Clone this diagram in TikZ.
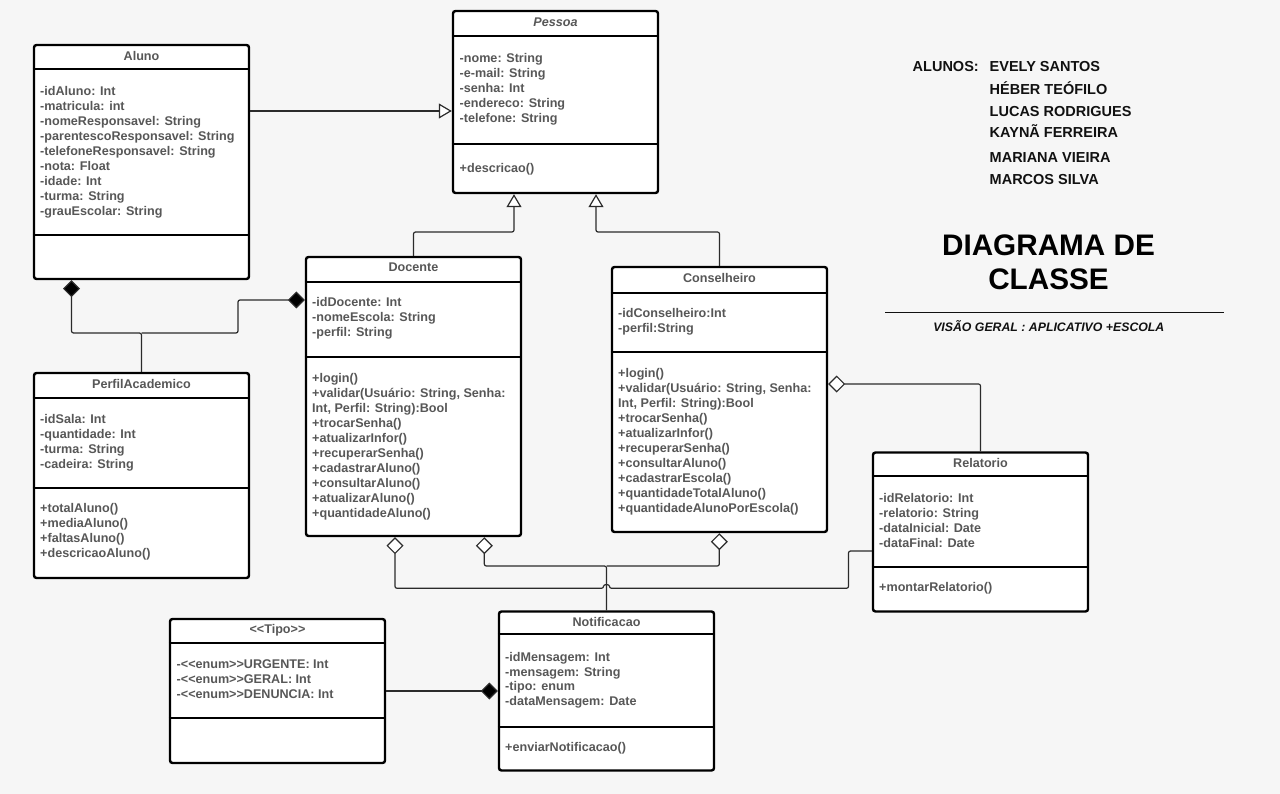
\documentclass[tikz,border=0pt]{standalone}
\usepackage{fontspec}
\newfontfamily\uf{Liberation Sans}
\usetikzlibrary{arrows.meta}
\definecolor{bg}{HTML}{F6F6F6}
\definecolor{txtgray}{HTML}{575757}
\definecolor{linegray}{HTML}{2B2B2B}
\definecolor{ink}{HTML}{111111}
\tikzset{
  umlbox/.style={draw=black, line width=2.4pt, fill=white, rounded corners=2.5pt, inner sep=0pt},
  sepline/.style={draw=black, line width=2.4pt},
  txt/.style={inner sep=0pt, font=\uf\bfseries\fontsize{12.6}{15}\selectfont, text=txtgray},
  conn/.style={draw=linegray, line width=1.2pt, rounded corners=2pt},
  gen/.style={conn, -{Triangle[open, length=13pt, width=15pt, fill=white]}},
  comp/.style={conn, -{Diamond[length=17pt, width=17pt, fill=black]}},
  aggr/.style={conn, -{Diamond[open, length=17pt, width=17pt, fill=white]}},
  side/.style={inner sep=0pt, font=\uf\bfseries\fontsize{14.5}{16}\selectfont, text=ink, anchor=base west},
}
\newcommand\umllines[5]{%
  \foreach \tx [count=\ii] in {#5}{
    \node[txt, anchor=base west] (#1-\ii) at (#2, {#3+#4*(\ii-1)}) {\tx};
  }}
\newcommand\umlsep[2]{\draw[sepline] (#1.west |- 0,#2) -- (#1.east |- 0,#2);}
\begin{document}
\begin{tikzpicture}[x=1pt, y=-1pt]
\useasboundingbox (0,0) rectangle (1280,794);
\fill[bg] (0,0) rectangle (1280,794);

% ---------- boxes ----------
\node[umlbox, minimum width=215pt, minimum height=234pt] (aluno) at (141.5,162) {};
\node[umlbox, minimum width=205pt, minimum height=182pt] (pessoa) at (555.5,102) {};
\node[umlbox, minimum width=215pt, minimum height=279pt] (docente) at (413.5,396.5) {};
\node[umlbox, minimum width=215pt, minimum height=265pt] (conselheiro) at (719.5,399.5) {};
\node[umlbox, minimum width=215pt, minimum height=205pt] (perfil) at (141.5,475.5) {};
\node[umlbox, minimum width=215pt, minimum height=159pt] (relatorio) at (980.5,532) {};
\node[umlbox, minimum width=215pt, minimum height=144pt] (tipo) at (277.5,691) {};
\node[umlbox, minimum width=215pt, minimum height=159pt] (notif) at (606.5,691) {};

\umlsep{aluno}{69}\umlsep{aluno}{235}
\umlsep{pessoa}{36}\umlsep{pessoa}{144}
\umlsep{docente}{282}\umlsep{docente}{357}
\umlsep{conselheiro}{293}\umlsep{conselheiro}{352}
\umlsep{perfil}{398}\umlsep{perfil}{488}
\umlsep{relatorio}{476}\umlsep{relatorio}{567}
\umlsep{tipo}{643}\umlsep{tipo}{718}
\umlsep{notif}{634}\umlsep{notif}{727}

% ---------- titles ----------
\node[txt, anchor=base] (aluno-t) at (aluno.center |- 0,60.2) {Aluno};
\node[txt, anchor=base] (pessoa-t) at (pessoa.center |- 0,26.2) {\itshape Pessoa};
\node[txt, anchor=base] (docente-t) at (docente.center |- 0,271.8) {Docente};
\node[txt, anchor=base] (conselheiro-t) at (conselheiro.center |- 0,282.8) {Conselheiro};
\node[txt, anchor=base] (perfil-t) at (perfil.center |- 0,388.5) {PerfilAcademico};
\node[txt, anchor=base] (relatorio-t) at (relatorio.center |- 0,467.2) {Relatorio};
\node[txt, anchor=base] (tipo-t) at (tipo.center |- 0,633.8) {<<Tipo>>};
\node[txt, anchor=base] (notif-t) at (notif.center |- 0,626.8) {Notificacao};

% ---------- contents ----------
\umllines{aluno-a}{40}{95.2}{15.08}{-idAluno: Int,-matricula: int,-nomeResponsavel: String,-parentescoResponsavel: String,-telefoneResponsavel: String,-nota: Float,-idade: Int,-turma: String,-grauEscolar: String}
\umllines{pessoa-a}{459.5}{62.8}{15}{-nome: String,-e-mail: String,-senha: Int,-endereco: String,-telefone: String}
\umllines{pessoa-m}{459.5}{172.2}{15}{+descricao()}
\umllines{docente-a}{312}{306.8}{15.1}{-idDocente: Int,-nomeEscola: String,-perfil: String}
\umllines{docente-m}{312}{382.2}{15.07}{+login(),{+validar(Usuário: String, Senha:},{Int, Perfil: String):Bool},+trocarSenha(),+atualizarInfor(),+recuperarSenha(),+cadastrarAluno(),+consultarAluno(),+atualizarAluno(),+quantidadeAluno()}
\umllines{conselheiro-a}{618}{317.2}{15.5}{-idConselheiro:Int,-perfil:String}
\umllines{conselheiro-m}{618}{377.8}{15}{+login(),{+validar(Usuário: String, Senha:},{Int, Perfil: String):Bool},+trocarSenha(),+atualizarInfor(),+recuperarSenha(),+consultarAluno(),+cadastrarEscola(),+quantidadeTotalAluno(),+quantidadeAlunoPorEscola()}
\umllines{perfil-a}{40}{423.5}{15}{-idSala: Int,-quantidade: Int,-turma: String,-cadeira: String}
\umllines{perfil-m}{40}{512.8}{15}{+totalAluno(),+mediaAluno(),+faltasAluno(),+descricaoAluno()}
\umllines{relatorio-a}{879}{502.2}{15}{-idRelatorio: Int,-relatorio: String,-dataInicial: Date,-dataFinal: Date}
\umllines{relatorio-m}{879}{591.2}{15}{+montarRelatorio()}
\umllines{tipo-a}{176.5}{668.5}{15.15}{-<<enum>>URGENTE: Int,-<<enum>>GERAL: Int,-<<enum>>DENUNCIA: Int}
\umllines{notif-a}{505}{661.2}{14.8}{-idMensagem: Int,-mensagem: String,-tipo: enum,-dataMensagem: Date}
\umllines{notif-m}{505}{751.2}{15}{+enviarNotificacao()}

% ---------- connectors ----------
\draw[gen] (aluno.east |- 0,111) -- (pessoa.west |- 0,111);
\draw[gen] (docente.north) |- (514,232) -- (pessoa.south -| 514,0);
\draw[gen] (conselheiro.north) |- (596,232) -- (pessoa.south -| 596,0);

\draw[comp] (perfil.north) |- (71.5,333) -- (aluno.south -| 71.5,0);
\draw[comp] (perfil.north |- 0,333) -| (238,300) -- (docente.west |- 0,300);

\draw[aggr] (relatorio.west |- 0,551) -| (848.5,588.3) -- (609.5,588.3)
  .. controls (609.5,584) and (603.5,584) .. (603.5,588.3) -- (395,588.3) -- (docente.south -| 395,0);
\draw[aggr] (notif.north) |- (484.3,566) -- (docente.south -| 484.3,0);
\draw[aggr] (notif.north |- 0,566) -| (conselheiro.south -| 719.3,0);
\draw[aggr] (relatorio.north) |- (conselheiro.east |- 0,384);
\draw[comp] (tipo.east) -- (notif.west |- tipo.east);

% ---------- side texts ----------
\node[side] (alunos-lbl) at (912.5,71.5) {ALUNOS:};
\node[side] (n1) at (989.5,71.5) {EVELY SANTOS};
\node[side] (n2) at (989.5,94.1) {HÉBER TEÓFILO};
\node[side] (n3) at (989.5,116.5) {LUCAS RODRIGUES};
\node[side] (n4) at (989.5,137.5) {KAYNÃ FERREIRA};
\node[side] (n5) at (989.5,162.1) {MARIANA VIEIRA};
\node[side] (n6) at (989.5,184.8) {MARCOS SILVA};

\node[inner sep=0pt, font=\uf\bfseries\fontsize{29.7}{35}\selectfont, text=black, anchor=base] (t1) at (1048.5,255.5) {DIAGRAMA DE};
\node[inner sep=0pt, font=\uf\bfseries\fontsize{29.7}{35}\selectfont, text=black, anchor=base] (t2) at (1048.5,290) {CLASSE};
\coordinate (rl) at (885,312.7);
\coordinate (rr) at (1224,312.7);
\draw[line width=1.5pt, draw=ink] (rl) -- (rr);
\node[inner sep=0pt, font=\uf\bfseries\itshape\fontsize{12.3}{14}\selectfont, text=ink, anchor=base] (sub) at (1048.8,331.6) {VISÃO GERAL : APLICATIVO +ESCOLA};
\end{tikzpicture}
\end{document}
